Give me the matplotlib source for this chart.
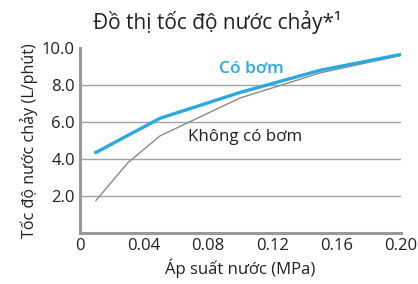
import matplotlib
matplotlib.use("Agg")
import matplotlib.pyplot as plt

# water pressure (MPa) vs flow rate (L/min)
PUMP_X = [0.01, 0.05, 0.10, 0.15, 0.20]
PUMP_Y = [4.35, 6.2, 7.6, 8.8, 9.65]
NOPUMP_X = [0.01, 0.03, 0.05, 0.10, 0.15, 0.20]
NOPUMP_Y = [1.75, 3.8, 5.25, 7.3, 8.66, 9.6]
X_TICKS = [0, 0.04, 0.08, 0.12, 0.16, 0.20]
X_LABELS = ["0", "0.04", "0.08", "0.12", "0.16", "0.20"]
Y_TICKS = [2, 4, 6, 8, 10]
Y_LABELS = ["2.0", "4.0", "6.0", "8.0", "10.0"]

BLUE = "#2aa9e0"
GREY = "#999999"
INK = "#231f20"

plt.rcParams["font.family"] = ["Open Sans", "DejaVu Sans"]

fig = plt.figure(figsize=(4.18, 2.84), dpi=100)
ax = fig.add_axes([0.191, 0.180, 0.768, 0.651])

for y in Y_TICKS[:-1]:
    ax.axhline(y, color="#a3a3a3", lw=1.0, zorder=1)

ax.plot(NOPUMP_X, NOPUMP_Y, color="#8a8a8a", lw=1.0, zorder=2)
ax.plot(PUMP_X, PUMP_Y, color=BLUE, lw=2.4, zorder=3)

ax.text(0.107, 8.86, "Có bơm", color=BLUE, fontsize=12.5, fontweight="semibold",
        ha="center", va="center")
ax.text(0.103, 5.2, "Không có bơm", color=INK, fontsize=12.2,
        ha="center", va="center")

ax.set_xlim(0, 0.20)
ax.set_ylim(0, 10)
ax.set_xticks(X_TICKS)
ax.set_xticklabels(X_LABELS)
ax.set_yticks(Y_TICKS)
ax.set_yticklabels(Y_LABELS)
ax.tick_params(axis="x", length=0, labelsize=12, colors=INK, pad=4)
ax.tick_params(axis="y", length=0, labelsize=12, colors=INK, pad=3.5)
for s in ["top", "right"]:
    ax.spines[s].set_visible(False)
for s in ["left", "bottom"]:
    ax.spines[s].set_color(GREY)
    ax.spines[s].set_linewidth(2.2)

ax.set_xlabel("Áp suất nước (MPa)", fontsize=12, color=INK, labelpad=3)
ax.set_ylabel("Tốc độ nước chảy (L/phút)", fontsize=11.6, color=INK, labelpad=3)
fig.text(0.52, 0.923, "Đồ thị tốc độ nước chảy*¹", fontsize=15, color=INK,
         ha="center", va="center")

fig.savefig("out.png", dpi=100)
